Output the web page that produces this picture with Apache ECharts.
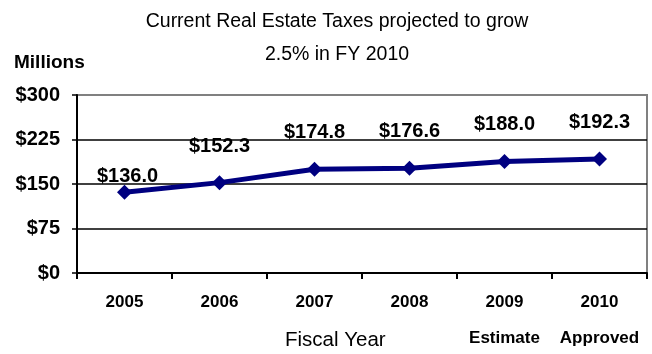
<!DOCTYPE html>
<html>
<head>
<meta charset="utf-8">
<script src="https://cdn.jsdelivr.net/npm/echarts@6/dist/echarts.min.js"></script>
<style>
  html, body { margin: 0; padding: 0; background: #fff; }
  #chart { width: 652px; height: 354px; }
</style>
</head>
<body>
<div id="chart"></div>
<script>
// Fiscal years on the category axis, with a second-line note for the last two
const fiscalYears = ['2005', '2006', '2007', '2008', '2009', '2010'];
const yearNotes = ['', '', '', '', 'Estimate', 'Approved'];

// Current real estate taxes, millions of dollars
const taxes = [136.0, 152.3, 174.8, 176.6, 188.0, 192.3];

// Value axis ticks
const yMin = 0;
const yMax = 300;
const yStep = 75;

const FONT = "'Liberation Sans', Arial, Helvetica, sans-serif";

const chart = echarts.init(document.getElementById('chart'), null, { renderer: 'canvas' });

const seriesData = taxes.map((v, i) => {
  const item = { value: v };
  if (i === 0) {
    // the first label sits closer to its point
    item.label = { distance: 0, offset: [3, 2] };
  }
  return item;
});

chart.setOption({
  animation: false,
  backgroundColor: '#ffffff',
  title: {
    text: 'Current Real Estate Taxes projected to grow\n2.5% in FY 2010',
    left: 332,
    top: 0,
    textAlign: 'center',
    textStyle: {
      fontFamily: FONT,
      fontSize: 19.5,
      fontWeight: 'normal',
      color: '#000',
      lineHeight: 33
    }
  },
  graphic: [
    {
      type: 'text',
      left: 14,
      top: 53,
      style: { text: 'Millions', fontFamily: FONT, fontSize: 19, fontWeight: 'bold', fill: '#000' }
    },
    {
      type: 'text',
      left: 285,
      top: 330,
      style: { text: 'Fiscal Year', fontFamily: FONT, fontSize: 20.5, fill: '#000' }
    }
  ],
  grid: {
    left: 77,
    right: 5,
    top: 95,
    bottom: 81,
    outerBoundsMode: 'none',
    containLabel: false,
    show: true,
    borderColor: '#808080',
    borderWidth: 2,
    backgroundColor: 'transparent'
  },
  xAxis: {
    type: 'category',
    data: fiscalYears,
    boundaryGap: true,
    axisLine: { show: true, lineStyle: { color: '#000', width: 2 } },
    axisTick: { show: true, interval: 0, alignWithLabel: false, length: 6, lineStyle: { color: '#000', width: 2 } },
    axisLabel: {
      interval: 0,
      margin: 18,
      fontFamily: FONT,
      fontSize: 17,
      fontWeight: 'bold',
      color: '#000',
      lineHeight: 22,
      formatter: (v, i) => yearNotes[i] ? v + '\n{note|' + yearNotes[i] + '}' : v,
      rich: {
        note: {
          fontFamily: "'Liberation Sans Narrow', 'Arial Narrow', " + FONT,
          fontSize: 17,
          fontWeight: 'bold',
          color: '#000',
          lineHeight: 50
        }
      }
    },
    splitLine: { show: false }
  },
  yAxis: {
    type: 'value',
    min: yMin,
    max: yMax,
    interval: yStep,
    axisLine: { show: true, lineStyle: { color: '#000', width: 2 } },
    axisTick: { show: true, length: 5, lineStyle: { color: '#000', width: 1.5 } },
    axisLabel: {
      margin: 17,
      fontFamily: FONT,
      fontSize: 20,
      fontWeight: 'bold',
      color: '#000',
      formatter: v => '$' + v
    },
    splitLine: {
      show: true,
      lineStyle: { color: ['#000', '#000', '#000', '#000', '#808080'], width: 1.5 }
    }
  },
  series: [{
    type: 'line',
    data: seriesData,
    symbol: 'diamond',
    symbolSize: [15, 15],
    lineStyle: { color: '#000080', width: 5 },
    itemStyle: { color: '#000080' },
    z: 5,
    label: {
      show: true,
      position: 'top',
      distance: 19,
      fontFamily: FONT,
      fontSize: 20,
      fontWeight: 'bold',
      color: '#000',
      formatter: p => '$' + p.value.toFixed(1)
    }
  }]
});
</script>
</body>
</html>
